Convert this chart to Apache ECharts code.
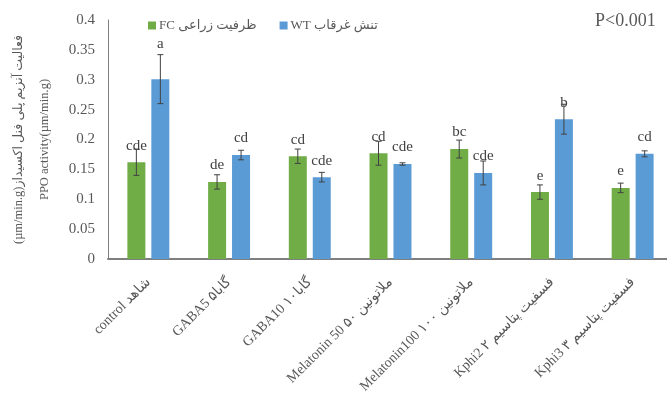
<!DOCTYPE html>
<html>
<head>
<meta charset="utf-8">
<script src="https://cdn.jsdelivr.net/npm/echarts@6/dist/echarts.min.js"></script>
<style>
  html, body { margin: 0; padding: 0; background: #fff; }
  #chart { width: 667px; height: 398px; }
</style>
</head>
<body>
<div id="chart"></div>
<script>
// treatments
var categories = ['control شاهد', 'GABA5 گابا۵', 'GABA10 گابا۱۰', 'Melatonin 50 ملاتونین ۵۰',
  'Melatonin100 ملاتونین ۱۰۰', 'Kphi2 فسفیت پتاسیم ۲', 'Kphi3 فسفیت پتاسیم ۳'];
var seriesNames = ['FC ظرفیت زراعی', 'WT تنش غرقاب'];

// FC (green)
var fcValues = [0.162, 0.129, 0.172, 0.177, 0.184, 0.112, 0.119];
var fcErrors = [0.022, 0.012, 0.012, 0.020, 0.015, 0.012, 0.008];
var fcLetters = ['cde', 'de', 'cd', 'cd', 'bc', 'e', 'e'];

// WT (blue)
var wtValues = [0.301, 0.174, 0.137, 0.159, 0.144, 0.234, 0.176];
var wtErrors = [0.041, 0.008, 0.008, 0.002, 0.020, 0.025, 0.005];
var wtLetters = ['a', 'cd', 'cde', 'cde', 'cde', 'b', 'cd'];

var yTicks = { min: 0, max: 0.4, interval: 0.05 };

var FONT = "'Liberation Serif', 'DejaVu Serif', 'DejaVu Sans', serif";
var GREEN = '#70AD47';
var BLUE = '#5B9BD5';

var chart = echarts.init(document.getElementById('chart'));

function barData(values, letters, bump) {
  var out = [];
  for (var i = 0; i < values.length; i++) {
    var item = { value: values[i], letter: letters[i] };
    if (bump[i]) item.label = { distance: bump[i] };
    out.push(item);
  }
  return out;
}

function errorData(values, errors) {
  var out = [];
  for (var i = 0; i < values.length; i++) {
    out.push([i, values[i] - errors[i], values[i] + errors[i]]);
  }
  return out;
}

// shift = offset of the error bar from the category centre, in px
function errorSeries(name, values, errors, shift) {
  return {
    name: name,
    type: 'custom',
    z: 5,
    silent: true,
    renderItem: function (params, api) {
      var lo = api.coord([api.value(0), api.value(1)]);
      var hi = api.coord([api.value(0), api.value(2)]);
      var x = lo[0] + shift;
      var cap = 3;
      var st = { stroke: '#404040', lineWidth: 1 };
      return {
        type: 'group',
        children: [
          { type: 'line', shape: { x1: x, y1: lo[1], x2: x, y2: hi[1] }, style: st },
          { type: 'line', shape: { x1: x - cap, y1: lo[1], x2: x + cap, y2: lo[1] }, style: st },
          { type: 'line', shape: { x1: x - cap, y1: hi[1], x2: x + cap, y2: hi[1] }, style: st }
        ]
      };
    },
    encode: { x: 0, y: [1, 2] },
    data: errorData(values, errors)
  };
}

var letterLabel = {
  show: true,
  position: 'top',
  distance: 9,
  fontFamily: FONT,
  fontSize: 15,
  color: '#404040',
  formatter: function (p) { return p.data.letter; }
};

var option = {
  animation: false,
  textStyle: { fontFamily: FONT },
  grid: { left: 108, right: -6, top: 20, bottom: 139, containLabel: false, outerBoundsMode: 'none' },
  legend: {
    data: seriesNames,
    left: 143,
    top: 14,
    itemWidth: 8,
    itemHeight: 8,
    itemGap: 23,
    icon: 'rect',
    textStyle: { fontFamily: FONT, fontSize: 13, color: '#595959', padding: [0, 0, 0, -2] }
  },
  xAxis: {
    type: 'category',
    data: categories,
    axisLine: { lineStyle: { color: '#7f7f7f', width: 2 } },
    axisTick: { show: false },
    axisLabel: {
      rotate: 45,
      interval: 0,
      margin: 21,
      fontFamily: FONT,
      fontSize: 14,
      color: '#595959'
    }
  },
  yAxis: {
    type: 'value',
    min: yTicks.min,
    max: yTicks.max,
    interval: yTicks.interval,
    name: '(µm/min.g)فعالیت آنزیم پلی فنل اکسیداز\nPPO activity(µm/min.g)',
    nameLocation: 'middle',
    nameRotate: 90,
    nameGap: 50,
    nameTextStyle: { fontFamily: FONT, fontSize: 12.5, color: '#595959', lineHeight: 26 },
    splitLine: { show: false },
    axisLine: { show: true, lineStyle: { color: '#7f7f7f', width: 1 } },
    axisTick: { show: false },
    axisLabel: { margin: 13, fontFamily: FONT, fontSize: 15, color: '#595959' }
  },
  graphic: [{
    type: 'text',
    left: 595,
    top: 12,
    style: { text: 'P<0.001', font: "18px " + FONT, fill: '#595959' }
  }],
  series: [
    {
      name: seriesNames[0],
      type: 'bar',
      barWidth: 18,
      barGap: '33%',
      itemStyle: { color: GREEN },
      label: letterLabel,
      data: barData(fcValues, fcLetters, {})
    },
    {
      name: seriesNames[1],
      type: 'bar',
      barWidth: 18,
      barGap: '33%',
      itemStyle: { color: BLUE },
      label: letterLabel,
      data: barData(wtValues, wtLetters, { 0: 28 })
    },
    errorSeries('fcErr', fcValues, fcErrors, -12),
    errorSeries('wtErr', wtValues, wtErrors, 12)
  ]
};

chart.setOption(option);
</script>
</body>
</html>
